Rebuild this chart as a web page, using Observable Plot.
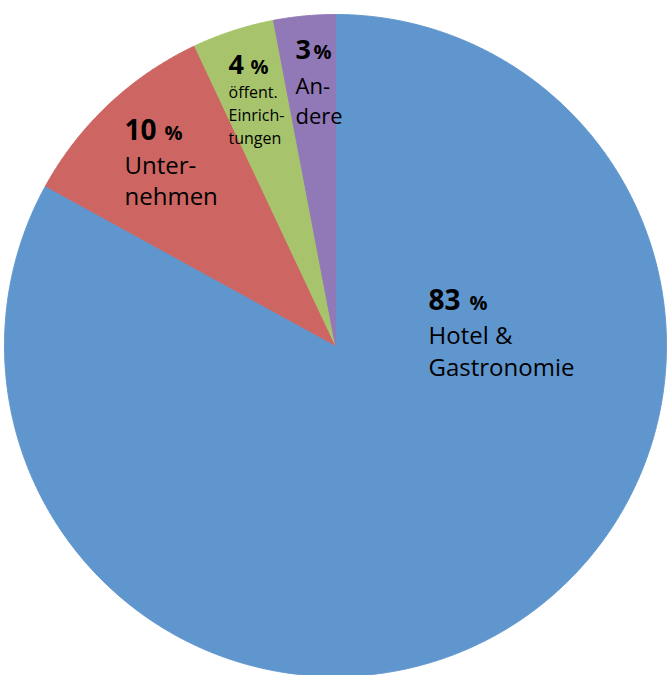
<!DOCTYPE html>
<html><head><meta charset="utf-8">
<script src="https://cdn.jsdelivr.net/npm/d3@7"></script>
<script src="https://cdn.jsdelivr.net/npm/@observablehq/plot@0.6"></script>
<style>html,body{margin:0;padding:0;background:#fff;} svg{display:block}</style>
</head><body><div id="chart"></div>
<script>
// ---- data ----
const categories = ["Hotel & Gastronomie", "Unternehmen", "öffentliche Einrichtungen", "Andere"];
const shares = [83, 10, 4, 3];
const labelNames = ["Hotel &\nGastronomie", "Unter-\nnehmen", "öffent.\nEinrich-\ntungen", "An-\ndere"];
const colors = ["#6096CE", "#CD6662", "#A7C46C", "#9179B8"];

// ---- layout (pixels) ----
const W = 667, H = 675, CX = 335, CY = 345, R = 331;
const layout = [
  {x: 428, numY: 309, numSize: 28, pctDx: 41, nameY: 375, nameSize: 24, lh: 32},
  {x: 124, numY: 139, numSize: 28, pctDx: 40, nameY: 204, nameSize: 24, lh: 31},
  {x: 228, numY: 73,  numSize: 27, pctDx: 22, nameY: 143, nameSize: 16, lh: 23},
  {x: 295, numY: 58,  numSize: 27, pctDx: 18, nameY: 123, nameSize: 22, lh: 30}
];
const toX = px => (px - CX) / R, toY = py => (CY - py) / R;

// ---- slices from d3.pie ----
const rows = categories.map((c, i) => ({cat: c, share: shares[i]}));
const arcs = d3.pie().sort(null).value(d => d.share).startAngle(0).endAngle(2 * Math.PI)(rows);
const points = [];
for (const a of arcs) {
  const cat = a.data.cat;
  points.push({cat, x: 0, y: 0});
  const n = Math.max(2, Math.ceil((a.endAngle - a.startAngle) / (Math.PI / 720)));
  for (let k = 0; k <= n; ++k) {
    const t = a.startAngle + (a.endAngle - a.startAngle) * k / n;
    points.push({cat, x: Math.sin(t), y: Math.cos(t)});
  }
  points.push({cat, x: 0, y: 0});
}

const font = "'Open Sans', 'DejaVu Sans', sans-serif";
const marks = [
  Plot.line(points, {x: "x", y: "y", z: "cat", fill: "cat", stroke: "cat", strokeWidth: 1, curve: "linear"})
];
categories.forEach((c, i) => {
  const L = layout[i];
  const d = [{x: toX(L.x), yn: toY(L.numY), ym: toY(L.nameY), num: String(shares[i]), name: labelNames[i]}];
  marks.push(Plot.text(d, {x: "x", y: "yn", text: "num", textAnchor: "start", lineAnchor: "bottom",
    fontSize: L.numSize, fontWeight: "bold", fontFamily: font, fill: "#000"}));
  marks.push(Plot.text(d, {x: "x", y: "yn", text: () => "%", dx: L.pctDx, textAnchor: "start", lineAnchor: "bottom",
    fontSize: 20, fontWeight: "bold", fontFamily: font, fill: "#000"}));
  marks.push(Plot.text(d, {x: "x", y: "ym", text: "name", textAnchor: "start", lineAnchor: "bottom",
    lineHeight: L.lh / L.nameSize, fontSize: L.nameSize, fontFamily: font, fill: "#000"}));
});

const chart = Plot.plot({
  width: W, height: H, margin: 0,
  style: {background: "#fff", overflow: "hidden"},
  x: {domain: [-1, 1], range: [CX - R, CX + R], axis: null},
  y: {domain: [-1, 1], range: [CY + R, CY - R], axis: null},
  color: {type: "ordinal", domain: categories, range: colors},
  marks
});
document.getElementById("chart").append(chart);
</script>
</body></html>
